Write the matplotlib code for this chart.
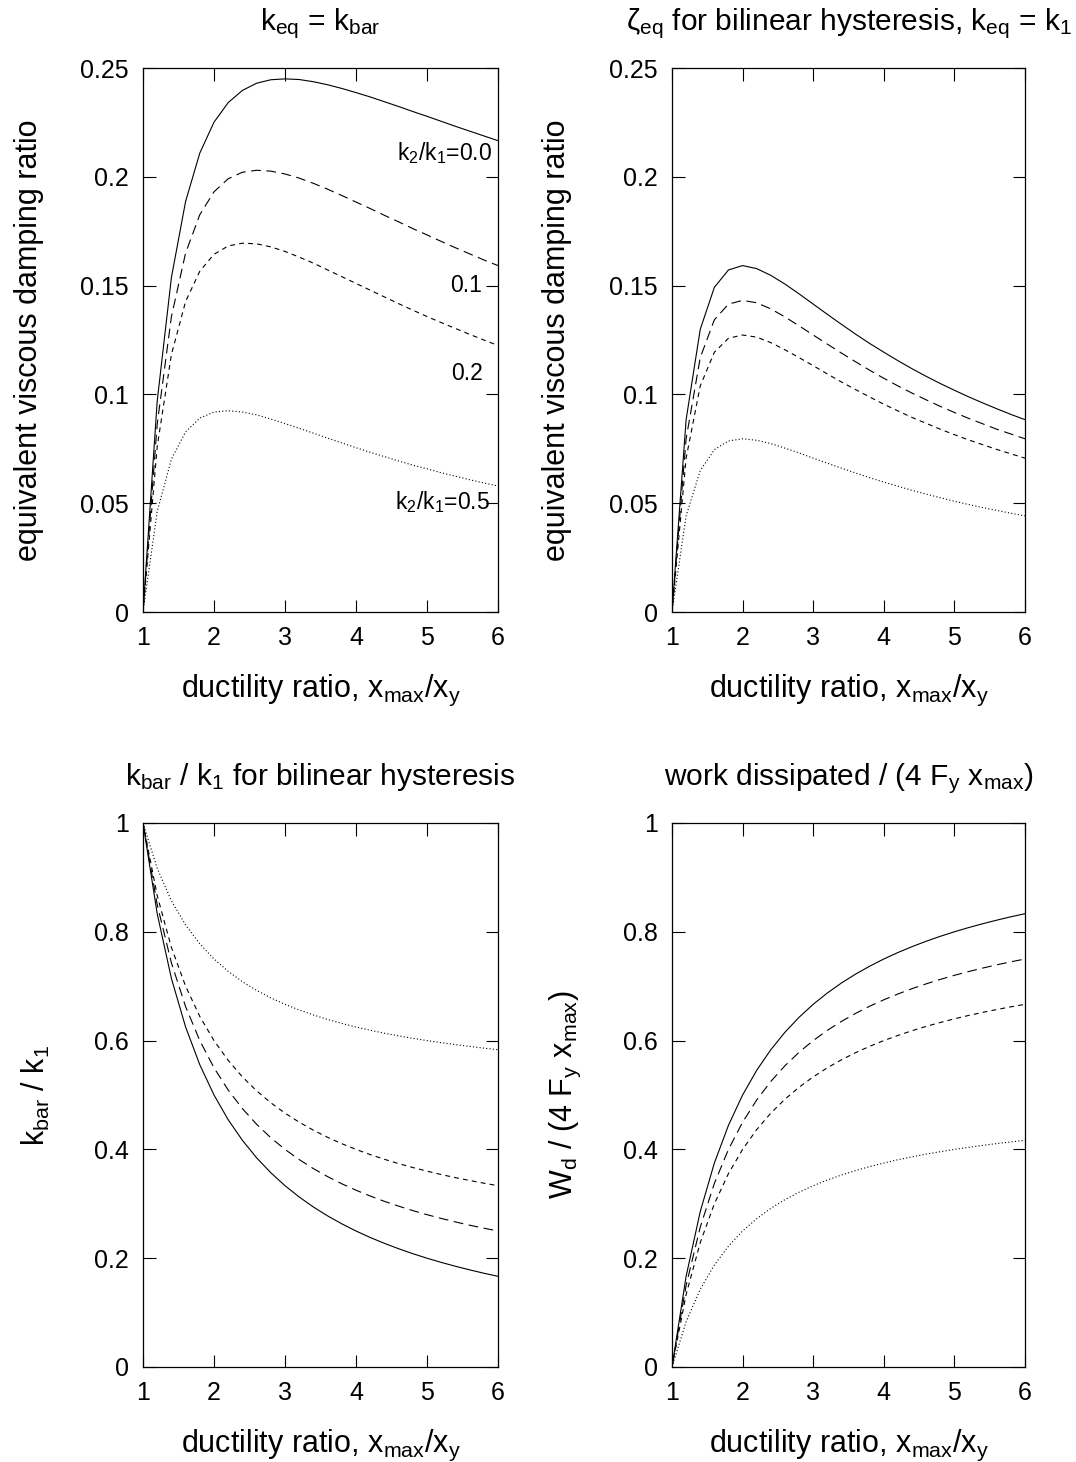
import matplotlib
matplotlib.use("Agg")
import matplotlib.pyplot as plt
from matplotlib.ticker import FixedLocator, FuncFormatter

plt.rcParams['font.family'] = ['Liberation Sans', 'DejaVu Sans']
plt.rcParams['mathtext.default'] = 'regular'
plt.rcParams['lines.scale_dashes'] = False

# ductility ratio samples
mu = [1.0, 1.2, 1.4, 1.6, 1.8, 2.0, 2.2, 2.4, 2.6, 2.8, 3.0, 3.2, 3.4,
      3.6, 3.8, 4.0, 4.2, 4.4, 4.6, 4.8, 5.0, 5.2, 5.4, 5.6, 5.8, 6.0]

# zeta_eq, keq = kbar  (k2/k1 = 0.0, 0.1, 0.2, 0.5)
zbar_00 = [0, 0.0969, 0.1537, 0.1887, 0.2109, 0.2251, 0.2341, 0.2397, 0.2430,
           0.2446, 0.2450, 0.2447, 0.2437, 0.2423, 0.2406, 0.2387, 0.2367,
           0.2345, 0.2323, 0.2300, 0.2278, 0.2255, 0.2232, 0.2210, 0.2188, 0.2166]
zbar_01 = [0, 0.0863, 0.1357, 0.1650, 0.1826, 0.1931, 0.1991, 0.2021, 0.2030,
           0.2026, 0.2013, 0.1994, 0.1970, 0.1943, 0.1914, 0.1884, 0.1854,
           0.1823, 0.1793, 0.1762, 0.1733, 0.1703, 0.1674, 0.1646, 0.1618, 0.1592]
zbar_02 = [0, 0.0760, 0.1183, 0.1427, 0.1566, 0.1644, 0.1682, 0.1695, 0.1692,
           0.1678, 0.1657, 0.1631, 0.1603, 0.1572, 0.1541, 0.1510, 0.1479,
           0.1448, 0.1417, 0.1387, 0.1358, 0.1330, 0.1303, 0.1276, 0.1250, 0.1225]
zbar_05 = [0, 0.0462, 0.0702, 0.0828, 0.0891, 0.0919, 0.0925, 0.0919, 0.0906,
           0.0887, 0.0866, 0.0844, 0.0822, 0.0799, 0.0777, 0.0755, 0.0734,
           0.0714, 0.0694, 0.0675, 0.0658, 0.0640, 0.0624, 0.0608, 0.0593, 0.0579]

# zeta_eq, keq = k1
zk1_00 = [0, 0.0884, 0.1299, 0.1492, 0.1572, 0.1592, 0.1578, 0.1547, 0.1507,
          0.1462, 0.1415, 0.1368, 0.1322, 0.1277, 0.1234, 0.1194, 0.1155,
          0.1118, 0.1083, 0.1050, 0.1019, 0.0989, 0.0961, 0.0934, 0.0908, 0.0884]
zk1_01 = [0, 0.0796, 0.1169, 0.1343, 0.1415, 0.1432, 0.1421, 0.1393, 0.1356,
          0.1315, 0.1273, 0.1231, 0.1190, 0.1150, 0.1111, 0.1074, 0.1039,
          0.1006, 0.0975, 0.0945, 0.0917, 0.0890, 0.0865, 0.0840, 0.0818, 0.0796]
zk1_02 = [0, 0.0707, 0.1039, 0.1194, 0.1258, 0.1273, 0.1263, 0.1238, 0.1205,
          0.1169, 0.1132, 0.1094, 0.1057, 0.1022, 0.0988, 0.0955, 0.0924,
          0.0894, 0.0867, 0.0840, 0.0815, 0.0791, 0.0769, 0.0747, 0.0727, 0.0707]
zk1_05 = [0, 0.0442, 0.0650, 0.0746, 0.0786, 0.0796, 0.0789, 0.0774, 0.0753,
          0.0731, 0.0707, 0.0684, 0.0661, 0.0639, 0.0617, 0.0597, 0.0578,
          0.0559, 0.0542, 0.0525, 0.0509, 0.0494, 0.0480, 0.0467, 0.0454, 0.0442]

# kbar / k1
kb_00 = [1, 0.8333, 0.7143, 0.6250, 0.5556, 0.5000, 0.4545, 0.4167, 0.3846,
         0.3571, 0.3333, 0.3125, 0.2941, 0.2778, 0.2632, 0.2500, 0.2381,
         0.2273, 0.2174, 0.2083, 0.2000, 0.1923, 0.1852, 0.1786, 0.1724, 0.1667]
kb_01 = [1, 0.8500, 0.7429, 0.6625, 0.6000, 0.5500, 0.5091, 0.4750, 0.4462,
         0.4214, 0.4000, 0.3813, 0.3647, 0.3500, 0.3368, 0.3250, 0.3143,
         0.3045, 0.2957, 0.2875, 0.2800, 0.2731, 0.2667, 0.2607, 0.2552, 0.2500]
kb_02 = [1, 0.8667, 0.7714, 0.7000, 0.6444, 0.6000, 0.5636, 0.5333, 0.5077,
         0.4857, 0.4667, 0.4500, 0.4353, 0.4222, 0.4105, 0.4000, 0.3905,
         0.3818, 0.3739, 0.3667, 0.3600, 0.3538, 0.3481, 0.3429, 0.3379, 0.3333]
kb_05 = [1, 0.9167, 0.8571, 0.8125, 0.7778, 0.7500, 0.7273, 0.7083, 0.6923,
         0.6786, 0.6667, 0.6563, 0.6471, 0.6389, 0.6316, 0.6250, 0.6190,
         0.6136, 0.6087, 0.6042, 0.6000, 0.5962, 0.5926, 0.5893, 0.5862, 0.5833]

# work dissipated / (4 Fy xmax)
wd_00 = [0, 0.1667, 0.2857, 0.3750, 0.4444, 0.5000, 0.5455, 0.5833, 0.6154,
         0.6429, 0.6667, 0.6875, 0.7059, 0.7222, 0.7368, 0.7500, 0.7619,
         0.7727, 0.7826, 0.7917, 0.8000, 0.8077, 0.8148, 0.8214, 0.8276, 0.8333]
wd_01 = [0, 0.1500, 0.2571, 0.3375, 0.4000, 0.4500, 0.4909, 0.5250, 0.5538,
         0.5786, 0.6000, 0.6188, 0.6353, 0.6500, 0.6632, 0.6750, 0.6857,
         0.6955, 0.7043, 0.7125, 0.7200, 0.7269, 0.7333, 0.7393, 0.7448, 0.7500]
wd_02 = [0, 0.1333, 0.2286, 0.3000, 0.3556, 0.4000, 0.4364, 0.4667, 0.4923,
         0.5143, 0.5333, 0.5500, 0.5647, 0.5778, 0.5895, 0.6000, 0.6095,
         0.6182, 0.6261, 0.6333, 0.6400, 0.6462, 0.6519, 0.6571, 0.6621, 0.6667]
wd_05 = [0, 0.0833, 0.1429, 0.1875, 0.2222, 0.2500, 0.2727, 0.2917, 0.3077,
         0.3214, 0.3333, 0.3438, 0.3529, 0.3611, 0.3684, 0.3750, 0.3810,
         0.3864, 0.3913, 0.3958, 0.4000, 0.4038, 0.4074, 0.4107, 0.4138, 0.4167]

styles = ['-', (0, (7, 4)), (0, (3.5, 3)), (0, (0.8, 1.6))]
TICK_FS = 18
LAB_FS = 22
TITLE_FS = 21.5

fig = plt.figure(figsize=(10.76, 14.62), dpi=100)
W, H = 1076, 1462


def make_ax(l, t, r, b):
    return fig.add_axes([l / W, 1 - b / H, (r - l) / W, (b - t) / H])


def style_ax(ax, ymax, ystep, title, ylabel, ylab_x):
    ax.set_xlim(1, 6)
    ax.set_ylim(0, ymax)
    ax.xaxis.set_major_locator(FixedLocator([1, 2, 3, 4, 5, 6]))
    n = int(round(ymax / ystep))
    ax.yaxis.set_major_locator(FixedLocator([i * ystep for i in range(n + 1)]))
    ax.yaxis.set_major_formatter(FuncFormatter(lambda v, p: '%g' % round(v, 4)))
    ax.tick_params(direction='in', top=True, right=True, length=9, width=0.8,
                   labelsize=TICK_FS, pad=10)
    for s in ax.spines.values():
        s.set_linewidth(0.9)
    ax.set_xlabel('ductility ratio, x$_{max}$/x$_y$', fontsize=LAB_FS, va='top')
    ax.xaxis.set_label_coords(0.5, -0.112)
    ax.set_ylabel(ylabel, fontsize=LAB_FS)
    ax.yaxis.set_label_coords(ylab_x, 0.5)
    ax.text(0.5, 1.07, title, transform=ax.transAxes, ha='center',
            va='baseline', fontsize=TITLE_FS)


ax1 = make_ax(143, 68, 498, 612)
ax2 = make_ax(672, 68, 1025, 612)
ax3 = make_ax(143, 823, 498, 1367)
ax4 = make_ax(672, 823, 1025, 1367)

for ys, ax in [((zbar_00, zbar_01, zbar_02, zbar_05), ax1),
               ((zk1_00, zk1_01, zk1_02, zk1_05), ax2),
               ((kb_00, kb_01, kb_02, kb_05), ax3),
               ((wd_00, wd_01, wd_02, wd_05), ax4)]:
    for y, ls in zip(ys, styles):
        ax.plot(mu, y, color='black', lw=0.8, linestyle=ls)

style_ax(ax1, 0.25, 0.05, 'k$_{eq}$ = k$_{bar}$',
         'equivalent viscous damping ratio', -0.278)
style_ax(ax2, 0.25, 0.05, 'ζ$_{eq}$ for bilinear hysteresis, k$_{eq}$ = k$_1$',
         'equivalent viscous damping ratio', -0.283)
style_ax(ax3, 1.0, 0.2, 'k$_{bar}$ / k$_1$ for bilinear hysteresis',
         'k$_{bar}$ / k$_1$', -0.256)
style_ax(ax4, 1.0, 0.2, 'work dissipated / (4 F$_y$ x$_{max}$)',
         'W$_d$ / (4 F$_y$ x$_{max}$)', -0.252)

# curve labels in first panel
ax1.text(5.91, 0.2109, 'k$_2$/k$_1$=0.0', ha='right', va='center', fontsize=16.5)
ax1.text(5.77, 0.1500, '0.1', ha='right', va='center', fontsize=16.5)
ax1.text(5.79, 0.1098, '0.2', ha='right', va='center', fontsize=16.5)
ax1.text(5.89, 0.0507, 'k$_2$/k$_1$=0.5', ha='right', va='center', fontsize=16.5)

fig.savefig('out.png', dpi=100, facecolor='white')
